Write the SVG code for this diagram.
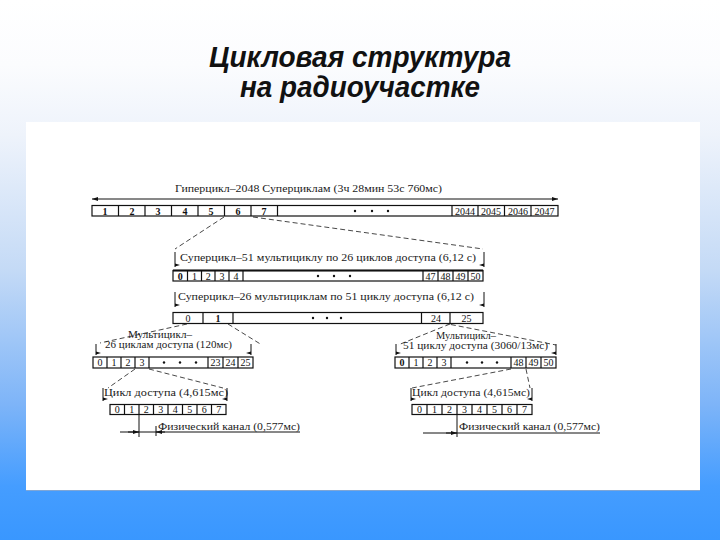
<svg xmlns="http://www.w3.org/2000/svg" width="720" height="540" viewBox="0 0 720 540">
<defs>
<linearGradient id="bg" x1="0" y1="0" x2="0" y2="1">
<stop offset="0" stop-color="#ffffff"/>
<stop offset="0.12" stop-color="#fbfcfe"/>
<stop offset="0.25" stop-color="#eef3fb"/>
<stop offset="0.5" stop-color="#c4daf6"/>
<stop offset="0.75" stop-color="#7db4f8"/>
<stop offset="0.9" stop-color="#459dff"/>
<stop offset="1" stop-color="#3997ff"/>
</linearGradient>
<marker id="ah" viewBox="0 0 6 4" refX="6" refY="2" markerWidth="6" markerHeight="4" orient="auto" markerUnits="userSpaceOnUse">
<path d="M0,0 L6,2 L0,4 z" fill="#111"/>
</marker>
</defs>
<style>
.t{font-family:"Liberation Serif","Times New Roman",serif;font-size:10.5px;fill:#1a1a1a}
.n{font-family:"Liberation Serif","Times New Roman",serif;font-size:10px;fill:#111;text-anchor:middle}
.nb{font-weight:bold}
.row{fill:#fff;stroke:#111;stroke-width:1.2}
.cell{stroke:#111;stroke-width:1.2;fill:none}
.dash{stroke:#333;stroke-width:0.9;stroke-dasharray:5,3;fill:none}
.ln{stroke:#111;stroke-width:1;fill:none}
.dot{fill:#111}
.title{font-family:"Liberation Sans",Arial,sans-serif;font-weight:bold;font-style:italic;font-size:29px;fill:#111;text-anchor:middle}
</style>
<rect width="720" height="540" fill="url(#bg)"/>
<rect x="26" y="122" width="674" height="368" fill="#ffffff"/>
<line x1="26" y1="490.5" x2="700" y2="490.5" stroke="#7fa6d6" stroke-width="1.2"/>

<g id="title">
<text class="title" x="360" y="67" textLength="302" lengthAdjust="spacingAndGlyphs">Цикловая структура</text>
<text class="title" x="360" y="97" textLength="240" lengthAdjust="spacingAndGlyphs">на радиоучастке</text>
</g>

<g id="connectors">
<path class="dash" d="M224,217 L175,249"/>
<path class="dash" d="M253,217 L483,249"/>
<path class="dash" d="M187,324 L100,343"/>
<path class="dash" d="M228,324 L262,345"/>
<path class="dash" d="M450,324 L398,345"/>
<path class="dash" d="M443,323 L556,345"/>
<path class="dash" d="M135,369 L108,388"/>
<path class="dash" d="M149,369 L223,388"/>
<path class="dash" d="M511,369 L412,388"/>
<path class="dash" d="M526,369 L530,388"/>
</g>

<g id="hyperframe">
<text class="t" x="175" y="192" textLength="267" lengthAdjust="spacingAndGlyphs">Гиперцикл–2048 Суперциклам (3ч 28мин 53с 760мс)</text>
<line class="ln" x1="100" y1="199" x2="550" y2="199"/>
<path class="ln" d="M100,199 L92,199" marker-end="url(#ah)"/>
<path class="ln" d="M550,199 L558,199" marker-end="url(#ah)"/>
<rect class="row" x="92" y="205.5" width="466" height="10.5"/>
<path class="cell" d="M118.5,205.5V216M145,205.5V216M171.5,205.5V216M198,205.5V216M224.5,205.5V216M251,205.5V216M277.5,205.5V216M452,205.5V216M478,205.5V216M504.5,205.5V216M531,205.5V216"/>
<g class="n nb">
<text x="105" y="214.5">1</text><text x="132" y="214.5">2</text><text x="158" y="214.5">3</text><text x="185" y="214.5">4</text><text x="211" y="214.5">5</text><text x="238" y="214.5">6</text><text x="264" y="214.5">7</text>
</g>
<g class="n">
<text x="465" y="214.5">2044</text><text x="491" y="214.5">2045</text><text x="518" y="214.5">2046</text><text x="544.5" y="214.5">2047</text>
</g>
<circle class="dot" cx="355" cy="211" r="1.2"/><circle class="dot" cx="372" cy="211" r="1.2"/><circle class="dot" cx="388" cy="211" r="1.2"/>
</g>

<g id="superframe51">
<text class="t" x="180" y="261" textLength="296" lengthAdjust="spacingAndGlyphs">Суперцикл–51 мультициклу по 26 циклов доступа (6,12 с)</text>
<line class="ln" x1="175" y1="252" x2="175" y2="267"/>
<line class="ln" x1="484" y1="252" x2="484" y2="267"/>
<path class="dot" d="M175,263.5 L180,265 L175,266.5z"/>
<path class="dot" d="M484,263.5 L479,265 L484,266.5z"/>
<rect class="row" x="173" y="270.5" width="310" height="10.5"/>
<line x1="173" y1="270.5" x2="483" y2="270.5" stroke="#111" stroke-width="2"/>
<path class="cell" d="M187.5,270.5V281M201.5,270.5V281M215,270.5V281M229,270.5V281M243,270.5V281M423,270.5V281M438,270.5V281M453,270.5V281M468,270.5V281"/>
<g class="n">
<text x="180.2" y="279.5" font-weight="bold">0</text><text x="194.5" y="279.5">1</text><text x="208.2" y="279.5">2</text><text x="222" y="279.5">3</text><text x="236" y="279.5">4</text>
<text x="430.5" y="279.5">47</text><text x="445.5" y="279.5">48</text><text x="460.5" y="279.5">49</text><text x="475.5" y="279.5">50</text>
</g>
<circle class="dot" cx="318" cy="276" r="1.2"/><circle class="dot" cx="334" cy="276" r="1.2"/><circle class="dot" cx="350" cy="276" r="1.2"/>
</g>

<g id="superframe26">
<text class="t" x="178" y="300" textLength="296" lengthAdjust="spacingAndGlyphs">Суперцикл–26 мультициклам по 51 циклу доступа (6,12 с)</text>
<line class="ln" x1="175" y1="292" x2="175" y2="307"/>
<line class="ln" x1="484" y1="292" x2="484" y2="307"/>
<path class="dot" d="M175,303.5 L180,305 L175,306.5z"/>
<path class="dot" d="M484,303.5 L479,305 L484,306.5z"/>
<rect class="row" x="173" y="312.5" width="310" height="11"/>
<path class="cell" d="M203,312.5V323.5M233,312.5V323.5M421.5,312.5V323.5M450,312.5V323.5"/>
<g class="n">
<text x="188" y="321.5">0</text><text x="218" y="321.5" font-weight="bold">1</text><text x="436" y="321.5">24</text><text x="466.5" y="321.5">25</text>
</g>
<circle class="dot" cx="313" cy="318" r="1.2"/><circle class="dot" cx="327" cy="318" r="1.2"/><circle class="dot" cx="341" cy="318" r="1.2"/>
</g>

<g id="multiframe26">
<text class="t" x="160" y="338" text-anchor="middle" textLength="64" lengthAdjust="spacingAndGlyphs">Мультицикл–</text>
<text class="t" x="105" y="348" textLength="127" lengthAdjust="spacingAndGlyphs">26 циклам доступа (120мс)</text>
<line class="ln" x1="96" y1="344" x2="96" y2="355"/>
<line class="ln" x1="251" y1="344" x2="251" y2="355"/>
<path class="dot" d="M96,351.5 L101,353 L96,354.5z"/>
<path class="dot" d="M251,351.5 L246,353 L251,354.5z"/>
<rect class="row" x="93" y="357" width="160" height="11"/>
<path class="cell" d="M107,357V368M121,357V368M135,357V368M149,357V368M208,357V368M223,357V368M238,357V368"/>
<g class="n">
<text x="100" y="366">0</text><text x="114" y="366">1</text><text x="128" y="366">2</text><text x="142" y="366">3</text>
<text x="215.5" y="366">23</text><text x="230.5" y="366">24</text><text x="245.5" y="366">25</text>
</g>
<circle class="dot" cx="164" cy="362.5" r="1.2"/><circle class="dot" cx="180" cy="362.5" r="1.2"/><circle class="dot" cx="196" cy="362.5" r="1.2"/>
</g>

<g id="multiframe51">
<text class="t" x="466" y="339" text-anchor="middle" textLength="60" lengthAdjust="spacingAndGlyphs">Мультицикл–</text>
<text class="t" x="403" y="348.5" textLength="145" lengthAdjust="spacingAndGlyphs">51 циклу доступа (3060/13мс)</text>
<line class="ln" x1="396" y1="344" x2="396" y2="355"/>
<line class="ln" x1="556" y1="344" x2="556" y2="355"/>
<path class="dot" d="M396,351.5 L401,353 L396,354.5z"/>
<path class="dot" d="M556,351.5 L551,353 L556,354.5z"/>
<rect class="row" x="395" y="357" width="161" height="11"/>
<path class="cell" d="M409,357V368M423,357V368M437,357V368M451,357V368M511,357V368M526,357V368M541,357V368"/>
<g class="n">
<text x="402" y="366" font-weight="bold">0</text><text x="416" y="366">1</text><text x="430" y="366">2</text><text x="444" y="366">3</text>
<text x="518.5" y="366">48</text><text x="533.5" y="366">49</text><text x="548.5" y="366">50</text>
</g>
<circle class="dot" cx="467" cy="362.5" r="1.2"/><circle class="dot" cx="482" cy="362.5" r="1.2"/><circle class="dot" cx="497" cy="362.5" r="1.2"/>
</g>

<g id="tdma-left">
<text class="t" x="104" y="396" textLength="124" lengthAdjust="spacingAndGlyphs">Цикл доступа (4,615мс)</text>
<line class="ln" x1="103" y1="388" x2="103" y2="401"/>
<line class="ln" x1="227" y1="388" x2="227" y2="401"/>
<path class="dot" d="M103,397.5 L108,399 L103,400.5z"/>
<path class="dot" d="M227,397.5 L222,399 L227,400.5z"/>
<rect class="row" x="110" y="404.5" width="116" height="10"/>
<path class="cell" d="M124.5,404.5V414.5M139,404.5V414.5M153.5,404.5V414.5M168,404.5V414.5M182.5,404.5V414.5M197,404.5V414.5M211.5,404.5V414.5"/>
<g class="n">
<text x="117.2" y="413">0</text><text x="131.7" y="413">1</text><text x="146.2" y="413">2</text><text x="160.7" y="413">3</text><text x="175.2" y="413">4</text><text x="189.7" y="413">5</text><text x="204.2" y="413">6</text><text x="218.7" y="413">7</text>
</g>
</g>

<g id="phys-left">
<line class="ln" x1="139" y1="414" x2="139" y2="437"/>
<line class="ln" x1="156" y1="426" x2="156" y2="436"/>
<line class="ln" x1="120" y1="432" x2="300" y2="432" stroke-width="0.8"/>
<path class="ln" d="M128,432 L139,432" marker-end="url(#ah)"/>
<path class="ln" d="M165,432 L156,432" marker-end="url(#ah)"/>
<text class="t" x="158" y="429.5" textLength="142" lengthAdjust="spacingAndGlyphs">Физический канал (0,577мс)</text>
</g>

<g id="tdma-right">
<text class="t" x="412" y="396" textLength="118" lengthAdjust="spacingAndGlyphs">Цикл доступа (4,615мс)</text>
<line class="ln" x1="411" y1="388" x2="411" y2="401"/>
<line class="ln" x1="532" y1="388" x2="532" y2="401"/>
<path class="dot" d="M411,397.5 L416,399 L411,400.5z"/>
<path class="dot" d="M532,397.5 L527,399 L532,400.5z"/>
<rect class="row" x="412" y="404.5" width="120" height="10"/>
<path class="cell" d="M427,404.5V414.5M442,404.5V414.5M457,404.5V414.5M472,404.5V414.5M487,404.5V414.5M502,404.5V414.5M517,404.5V414.5"/>
<g class="n">
<text x="419.5" y="413">0</text><text x="434.5" y="413">1</text><text x="449.5" y="413">2</text><text x="464.5" y="413">3</text><text x="479.5" y="413">4</text><text x="494.5" y="413">5</text><text x="509.5" y="413">6</text><text x="524.5" y="413">7</text>
</g>
</g>

<g id="phys-right">
<line class="ln" x1="457" y1="414" x2="457" y2="437"/>
<line class="ln" x1="423" y1="433" x2="600" y2="433" stroke-width="0.8"/>
<path class="ln" d="M446,433 L457,433" marker-end="url(#ah)"/>
<text class="t" x="459" y="430" textLength="141" lengthAdjust="spacingAndGlyphs">Физический канал (0,577мс)</text>
</g>
</svg>
